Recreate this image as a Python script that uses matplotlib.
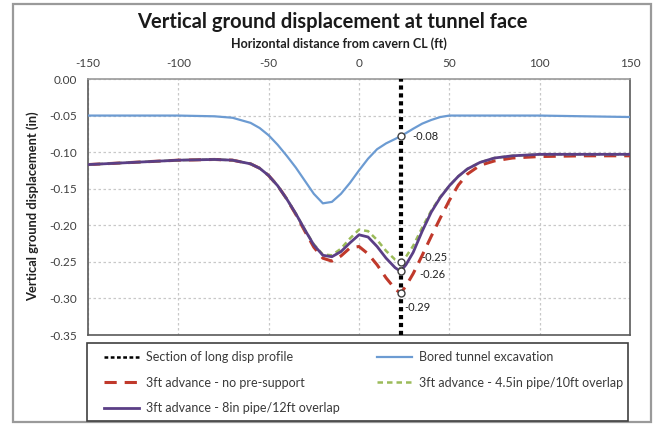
import matplotlib
matplotlib.use("Agg")
import matplotlib.pyplot as plt
from matplotlib.patches import Rectangle
from matplotlib.lines import Line2D

plt.rcParams['font.family'] = ['Lato', 'DejaVu Sans']

# Horizontal distance from cavern centreline (ft)
x_ft = [-150, -125, -100, -80, -70, -60, -55, -50, -45, -40, -35, -30, -25, -20,
        -15, -10, -5, 0, 5, 10, 15, 20, 23, 26, 30, 35, 40, 45, 50, 55, 60, 67,
        75, 85, 100, 125, 150]

# Vertical ground displacement (in)
bored = [-0.050, -0.050, -0.050, -0.051, -0.053, -0.060, -0.067, -0.077, -0.090,
         -0.105, -0.121, -0.139, -0.157, -0.170, -0.168, -0.157, -0.142, -0.125,
         -0.109, -0.096, -0.088, -0.082, -0.078, -0.074, -0.068, -0.061, -0.056,
         -0.052, -0.050, -0.050, -0.050, -0.050, -0.050, -0.050, -0.050, -0.051,
         -0.052]
no_support = [-0.117, -0.114, -0.111, -0.110, -0.111, -0.116, -0.122, -0.132,
              -0.146, -0.164, -0.185, -0.208, -0.230, -0.245, -0.249, -0.242,
              -0.231, -0.229, -0.239, -0.254, -0.272, -0.287, -0.293, -0.283,
              -0.266, -0.241, -0.215, -0.190, -0.166, -0.145, -0.130, -0.118,
              -0.112, -0.108, -0.106, -0.105, -0.105]
pipe_45in = [-0.117, -0.114, -0.111, -0.110, -0.111, -0.116, -0.122, -0.132,
             -0.146, -0.164, -0.184, -0.206, -0.226, -0.240, -0.241, -0.232,
             -0.218, -0.206, -0.208, -0.220, -0.235, -0.247, -0.250, -0.243,
             -0.228, -0.203, -0.180, -0.161, -0.146, -0.133, -0.123, -0.114,
             -0.108, -0.105, -0.103, -0.103, -0.103]
pipe_8in = [-0.117, -0.114, -0.111, -0.110, -0.111, -0.116, -0.122, -0.132,
            -0.146, -0.164, -0.184, -0.206, -0.227, -0.241, -0.243, -0.236,
            -0.224, -0.213, -0.216, -0.229, -0.245, -0.258, -0.263, -0.254,
            -0.237, -0.208, -0.182, -0.162, -0.146, -0.133, -0.123, -0.114,
            -0.108, -0.105, -0.103, -0.103, -0.103]

section_x = 23
x_ticks = [-150, -100, -50, 0, 50, 100, 150]
y_ticks = [0.00, -0.05, -0.10, -0.15, -0.20, -0.25, -0.30, -0.35]

W, H = 658, 426
fig = plt.figure(figsize=(W / 100, H / 100), dpi=100)
fig.patch.set_facecolor('white')


def px_box(x0, y0, x1, y1):
    """Figure-fraction rectangle from pixel corners (top-left origin)."""
    return (x0 / W, (H - y1) / H, (x1 - x0) / W, (y1 - y0) / H)


# outer chart frame
fx, fy, fw, fh = px_box(13, 4, 651, 422)
fig.patches.append(Rectangle((fx, fy), fw, fh, transform=fig.transFigure,
                             fill=False, edgecolor='#9a9a9a', linewidth=1.6))

ax = fig.add_axes(px_box(88, 79, 630, 335))

c_blue = '#6c9bd2'
c_red = '#c0392b'
c_green = '#9bbb59'
c_purple = '#5b3f86'

ax.axvline(section_x, color='black', lw=3, ls=(0, (1, 0.9)), zorder=6)
ax.plot(x_ft, bored, color=c_blue, lw=1.6, zorder=3)
ax.plot(x_ft, no_support, color=c_red, lw=2.2, ls=(0, (4, 2.6)), zorder=4)
ax.plot(x_ft, pipe_45in, color=c_green, lw=1.8, ls=(0, (2.2, 1.6)), zorder=4)
ax.plot(x_ft, pipe_8in, color=c_purple, lw=2.0, zorder=5)

# values at the section
idx = x_ft.index(section_x)
offsets = {'bored': (8.5, 0), 'pipe_45in': (15, 3), 'pipe_8in': (13.5, -2.5),
           'no_support': (3, -10)}
series = {'bored': bored, 'pipe_45in': pipe_45in, 'pipe_8in': pipe_8in,
          'no_support': no_support}
for key, vals in series.items():
    v = vals[idx]
    ax.plot([section_x], [v], marker='o', ms=5, mfc='white', mec='#404040',
            mew=1.0, zorder=7, ls='none')
    ax.annotate(f"{v:.2f}", (section_x, v), xytext=offsets[key],
                textcoords='offset points', ha='left', va='center',
                fontsize=8, color='#202020', zorder=8)

ax.set_xlim(-150, 150)
ax.set_ylim(-0.35, 0.0)
ax.set_xticks(x_ticks)
ax.set_yticks(y_ticks)
ax.set_xticklabels([str(t) for t in x_ticks])
ax.set_yticklabels([f"{t:.2f}" if t != 0 else "0.00" for t in y_ticks])
ax.xaxis.tick_top()
ax.tick_params(axis='both', length=0, labelsize=8.5, labelcolor='#404040')
ax.tick_params(axis='x', pad=7)
ax.tick_params(axis='y', pad=8)
ax.grid(True, color='#c8c8c8', lw=0.9, ls=(0, (2, 2)))
ax.set_axisbelow(True)
for s in ax.spines.values():
    s.set_color('#5a5a5a')
    s.set_linewidth(1.2)
ax.spines['top'].set_color('#9a9a9a')

fig.text(33 / W, 1 - 206 / H, "Vertical ground displacement (in)",
         rotation=90, ha='center', va='center', fontsize=9.3,
         fontweight='bold', color='#202020')
fig.text(339 / W, 1 - 44 / H, "Horizontal distance from cavern CL (ft)",
         ha='center', va='center', fontsize=9, fontweight='bold',
         color='#202020')
fig.text(332 / W, 1 - 22 / H, "Vertical ground displacement at tunnel face",
         ha='center', va='center', fontsize=14.5, fontweight='bold',
         color='#1a1a1a')

handles = [
    Line2D([], [], color='black', lw=1.8, ls=(0, (1.5, 1))),
    Line2D([], [], color=c_red, lw=2.2, ls=(0, (4, 2.6))),
    Line2D([], [], color=c_purple, lw=2.0),
    Line2D([], [], color=c_blue, lw=1.6),
    Line2D([], [], color=c_green, lw=1.8, ls=(0, (2.2, 1.6))),
]
labels = [
    "Section of long disp profile",
    "3ft advance - no pre-support",
    "3ft advance - 8in pipe/12ft overlap",
    "Bored tunnel excavation",
    "3ft advance - 4.5in pipe/10ft overlap",
]

# legend frame
lx, ly, lw_, lh = px_box(87, 343, 628, 421)
fig.patches.append(Rectangle((lx, ly), lw_, lh, transform=fig.transFigure,
                             fill=False, edgecolor='#404040', linewidth=1.2))
leg = fig.legend(handles, labels, loc='upper left',
                 bbox_to_anchor=(104 / W, 1 - 351 / H),
                 ncol=2, fontsize=9, frameon=False, borderaxespad=0,
                 borderpad=0, labelspacing=1.1, handlelength=2.8,
                 handletextpad=0.55, columnspacing=3.0)
for t in leg.get_texts():
    t.set_color('#3a3a3a')

fig.savefig("out.png", dpi=100)
